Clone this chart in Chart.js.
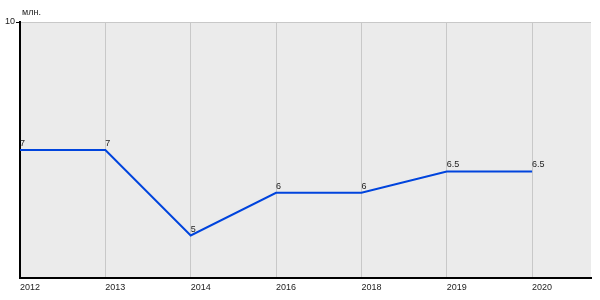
<!DOCTYPE html>
<html><head><meta charset="utf-8">
<script src="https://cdn.jsdelivr.net/npm/chart.js@4"></script>
<style>html,body{margin:0;padding:0;background:#fff}#wrap{width:600px;height:300px}</style>
</head><body><div id="wrap"><canvas id="c" width="600" height="300"></canvas></div>
<script>
const categories = ['2012','2013','2014','2016','2018','2019','2020'];
const values = [7, 7, 5, 6, 6, 6.5, 6.5];
const valueLabels = ['7','7','5','6','6','6.5','6.5'];
const unitLabel = 'млн.';
const yMin = 4, yMax = 10;

const FONT = 'Liberation Sans, Arial, sans-serif';

const bgPlugin = {
  id: 'bg',
  beforeDraw(chart) {
    const {ctx, chartArea: a} = chart;
    ctx.save();
    ctx.fillStyle = '#ebebeb';
    ctx.fillRect(a.left, a.top, a.right - a.left, a.bottom - a.top);
    ctx.restore();
  },
  afterDraw(chart) {
    const {ctx, chartArea: a} = chart;
    ctx.save();
    ctx.font = '9px ' + FONT;
    ctx.fillStyle = '#222';
    ctx.textBaseline = 'alphabetic';
    ctx.textAlign = 'left';
    ctx.fillText(unitLabel, a.left + 2, 15);
    const meta = chart.getDatasetMeta(0);
    meta.data.forEach((p, i) => {
      ctx.fillText(valueLabels[i], p.x, p.y - 4);
    });
    ctx.restore();
  }
};

new Chart(document.getElementById('c'), {
  type: 'line',
  data: {
    datasets: [{
      data: values.map((v, i) => ({x: i, y: v})),
      borderColor: '#0044dd',
      borderWidth: 2,
      pointRadius: 0,
      tension: 0,
      fill: false
    }]
  },
  options: {
    responsive: false,
    animation: false,
    devicePixelRatio: 1,
    layout: {padding: {top: 22, right: 9, left: 0, bottom: 3}},
    plugins: {legend: {display: false}, tooltip: {enabled: false}},
    scales: {
      x: {
        type: 'linear',
        min: 0, max: 6.69,
        ticks: {
          stepSize: 1,
          includeBounds: false,
          align: 'start',
          maxRotation: 0,
          autoSkip: false,
          padding: 4,
          color: '#222',
          font: {family: FONT, size: 9},
          callback: (v) => Number.isInteger(v) && categories[v] !== undefined ? categories[v] : ''
        },
        grid: {
          color: (c) => (c.tick && c.tick.value > 0) ? '#c8c8c8' : 'rgba(0,0,0,0)',
          lineWidth: 1,
          drawTicks: false
        },
        border: {color: '#000', width: 2}
      },
      y: {
        min: yMin, max: yMax,
        ticks: {
          stepSize: 1,
          color: '#222',
          padding: 1,
          font: {family: FONT, size: 9},
          callback: (v) => v === 10 ? '10' : ''
        },
        grid: {
          color: (c) => (c.tick && c.tick.value === 10) ? '#c8c8c8' : 'rgba(0,0,0,0)',
          tickColor: (c) => (c.tick && c.tick.value === 10) ? '#000' : 'rgba(0,0,0,0)',
          tickLength: 4,
          lineWidth: 1
        },
        border: {color: '#000', width: 2},
        afterFit: (s) => { s.width = 20; }
      }
    }
  },
  plugins: [bgPlugin]
});
</script></body></html>
